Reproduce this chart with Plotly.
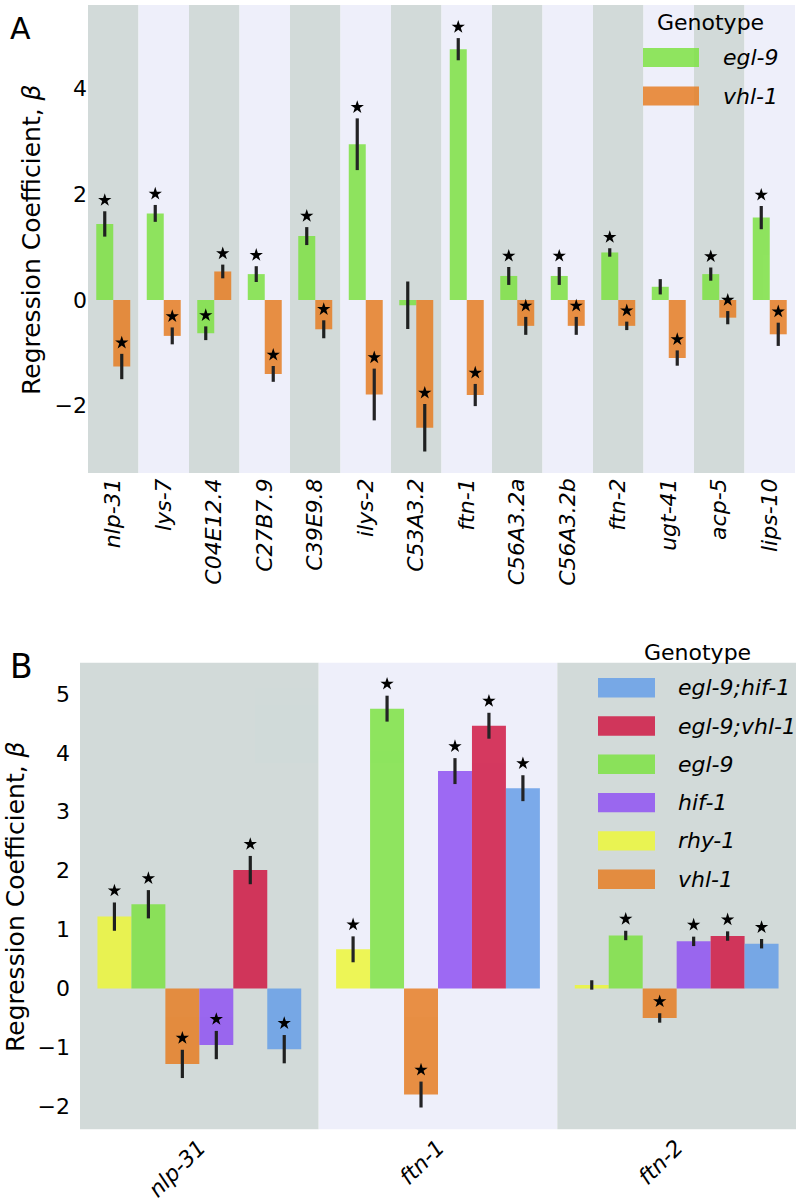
import plotly.graph_objects as go

# ---------------- data ----------------
genes_a = ["nlp-31", "lys-7", "C04E12.4", "C27B7.9", "C39E9.8", "ilys-2", "C53A3.2",
           "ftn-1", "C56A3.2a", "C56A3.2b", "ftn-2", "ugt-41", "acp-5", "lips-10"]
egl9_a = [1.44, 1.64, -0.63, 0.49, 1.21, 2.95, -0.10, 4.75, 0.455, 0.455, 0.90, 0.25, 0.49, 1.56]
egl9_a_err = [0.24, 0.16, 0.13, 0.15, 0.17, 0.49, 0.45, 0.21, 0.17, 0.17, 0.08, 0.145, 0.125, 0.22]
egl9_a_sig = [1, 1, 1, 1, 1, 1, 0, 1, 1, 1, 1, 0, 1, 1]
vhl1_a = [-1.26, -0.68, 0.54, -1.40, -0.555, -1.79, -2.42, -1.80, -0.49, -0.49, -0.49, -1.10, -0.335, -0.65]
vhl1_a_err = [0.24, 0.16, 0.13, 0.15, 0.17, 0.49, 0.45, 0.21, 0.17, 0.17, 0.08, 0.145, 0.125, 0.22]
vhl1_a_sig = [1, 1, 1, 1, 1, 1, 1, 1, 1, 1, 1, 1, 1, 1]

genes_b = ["nlp-31", "ftn-1", "ftn-2"]
rhy1_b = [1.22, 0.665, 0.06]
egl9_b = [1.43, 4.75, 0.90]
vhl1_b = [-1.28, -1.80, -0.50]
hif1_b = [-0.96, 3.69, 0.80]
egl9vhl1_b = [2.01, 4.46, 0.89]
egl9hif1_b = [-1.03, 3.40, 0.76]
err_b = [0.24, 0.22, 0.08]
rhy1_b_sig = [1, 1, 0]
all_sig_b = [1, 1, 1]

ticks_a = [-2, 0, 2, 4]
ticks_b = [-2, -1, 0, 1, 2, 3, 4, 5]

# ---------------- style ----------------
W, H = 796, 1202
FONT = "DejaVu Sans"
GRAY = "#d2dad9"
LAV = "#eeeffa"
OPA = 0.85
COL = {
    "egl-9": "#7ee243",
    "vhl-1": "#e67e24",
    "rhy-1": "#edf73a",
    "hif-1": "#9052f2",
    "egl-9;vhl-1": "#d01944",
    "egl-9;hif-1": "#679fe8",
}


def px(x):
    return x / W


def py(y):
    return 1 - y / H


fig = go.Figure()

# ---------- panel A ----------
series_a = [("egl-9", egl9_a, egl9_a_err, egl9_a_sig), ("vhl-1", vhl1_a, vhl1_a_err, vhl1_a_sig)]
bw_a = 0.3365
for s, (name, vals, errs, sig) in enumerate(series_a):
    xs = [i + (s - (len(series_a) - 1) / 2) * bw_a for i in range(len(genes_a))]
    fig.add_trace(go.Bar(x=xs, y=vals, width=bw_a, marker=dict(color=COL[name], line=dict(width=0)),
                         opacity=OPA, name=name, showlegend=False,
                         error_y=dict(type="data", array=errs, color="black", thickness=3.2, width=0),
                         xaxis="x", yaxis="y"))
    fig.add_trace(go.Scatter(x=xs, y=[v + e + 0.21 if g else None for v, e, g in zip(vals, errs, sig)],
                             mode="markers", marker=dict(symbol="star", size=10, color="black", line=dict(width=0)),
                             showlegend=False, xaxis="x", yaxis="y", hoverinfo="skip"))

# ---------- panel B ----------
series_b = [("rhy-1", rhy1_b, err_b, rhy1_b_sig), ("egl-9", egl9_b, err_b, all_sig_b),
            ("vhl-1", vhl1_b, err_b, all_sig_b), ("hif-1", hif1_b, err_b, all_sig_b),
            ("egl-9;vhl-1", egl9vhl1_b, err_b, all_sig_b), ("egl-9;hif-1", egl9hif1_b, err_b, all_sig_b)]
bw_b = 0.1423
for s, (name, vals, errs, sig) in enumerate(series_b):
    xs = [i + (s - (len(series_b) - 1) / 2) * bw_b for i in range(len(genes_b))]
    fig.add_trace(go.Bar(x=xs, y=vals, width=bw_b, marker=dict(color=COL[name], line=dict(width=0)),
                         opacity=OPA, name=name, showlegend=False,
                         error_y=dict(type="data", array=errs, color="black", thickness=3.2, width=0),
                         xaxis="x2", yaxis="y2"))
    fig.add_trace(go.Scatter(x=xs, y=[v + e + 0.2 if g else None for v, e, g in zip(vals, errs, sig)],
                             mode="markers", marker=dict(symbol="star", size=10, color="black", line=dict(width=0)),
                             showlegend=False, xaxis="x2", yaxis="y2", hoverinfo="skip"))

# ---------- background bands ----------
shapes = []
for i in range(len(genes_a)):
    shapes.append(dict(type="rect", xref="x", yref="y domain", x0=i - 0.5, x1=i + 0.5, y0=0, y1=1,
                       fillcolor=GRAY if i % 2 == 0 else LAV, line=dict(width=0), layer="below"))
for i in range(len(genes_b)):
    shapes.append(dict(type="rect", xref="x2", yref="y2 domain", x0=i - 0.5, x1=i + 0.5, y0=0, y1=1,
                       fillcolor=GRAY if i % 2 == 0 else LAV, line=dict(width=0), layer="below"))

annotations = []
# ---------- custom legends ----------
legend_a = ["egl-9", "vhl-1"]
annotations.append(dict(xref="paper", yref="paper", x=px(710), y=py(23), text="Genotype", showarrow=False,
                        xanchor="center", yanchor="middle", font=dict(family=FONT, size=22, color="black")))
for k, name in enumerate(legend_a):
    yc = 57.5 + 38.5 * k
    shapes.append(dict(type="rect", xref="paper", yref="paper", x0=px(643), x1=px(699),
                       y0=py(yc - 9.5), y1=py(yc + 9.5), fillcolor=COL[name], opacity=OPA,
                       line=dict(width=0), layer="above"))
    annotations.append(dict(xref="paper", yref="paper", x=px(721), y=py(yc), text=name, showarrow=False,
                            xanchor="left", yanchor="middle",
                            font=dict(family=FONT, size=22, color="black", style="italic")))

legend_b = ["egl-9;hif-1", "egl-9;vhl-1", "egl-9", "hif-1", "rhy-1", "vhl-1"]
annotations.append(dict(xref="paper", yref="paper", x=px(697), y=py(652), text="Genotype", showarrow=False,
                        xanchor="center", yanchor="middle", font=dict(family=FONT, size=22, color="black")))
for k, name in enumerate(legend_b):
    yc = 687.7 + 38.3 * k
    shapes.append(dict(type="rect", xref="paper", yref="paper", x0=px(598), x1=px(655),
                       y0=py(yc - 9.7), y1=py(yc + 9.7), fillcolor=COL[name], opacity=OPA,
                       line=dict(width=0), layer="above"))
    annotations.append(dict(xref="paper", yref="paper", x=px(676), y=py(yc), text=name, showarrow=False,
                            xanchor="left", yanchor="middle",
                            font=dict(family=FONT, size=22, color="black", style="italic")))

# ---------- titles / panel letters ----------
ytitle = "Regression Coefficient, <i>β</i>"
annotations.append(dict(xref="paper", yref="paper", x=px(31), y=py(240), text=ytitle, textangle=-90,
                        showarrow=False, xanchor="center", yanchor="middle",
                        font=dict(family=FONT, size=25, color="black")))
annotations.append(dict(xref="paper", yref="paper", x=px(15), y=py(897), text=ytitle, textangle=-90,
                        showarrow=False, xanchor="center", yanchor="middle",
                        font=dict(family=FONT, size=25, color="black")))
annotations.append(dict(xref="paper", yref="paper", x=px(20), y=py(29), text="A", showarrow=False,
                        xanchor="center", yanchor="middle", font=dict(family=FONT, size=30, color="black")))
annotations.append(dict(xref="paper", yref="paper", x=px(21), y=py(667), text="B", showarrow=False,
                        xanchor="center", yanchor="middle", font=dict(family=FONT, size=33, color="black")))

tickfont = dict(family=FONT, size=22, color="black")
fig.update_layout(
    width=W, height=H, margin=dict(l=0, r=0, t=0, b=0),
    paper_bgcolor="white", plot_bgcolor="white",
    barmode="overlay", showlegend=False,
    font=dict(family=FONT, color="black"),
    shapes=shapes, annotations=annotations,
    xaxis=dict(domain=[px(88), px(795)], range=[-0.5, len(genes_a) - 0.5],
               tickvals=list(range(len(genes_a))), ticktext=genes_a, tickangle=-90,
               tickfont=dict(family=FONT, size=22, color="black", style="italic"),
               showgrid=False, zeroline=False, showline=False, ticks="", anchor="y"),
    yaxis=dict(domain=[py(473), py(5)], range=[-3.277, 5.587], tickvals=ticks_a,
               tickfont=tickfont, showgrid=False, zeroline=False, showline=False, ticks="",
               anchor="x"),
    xaxis2=dict(domain=[px(80), px(796)], range=[-0.5, len(genes_b) - 0.5],
                tickvals=list(range(len(genes_b))), ticktext=genes_b, tickangle=-45,
                tickfont=dict(family=FONT, size=22, color="black", style="italic"),
                showgrid=False, zeroline=False, showline=False, ticks="", anchor="y2"),
    yaxis2=dict(domain=[py(1129.3), py(662.7)], range=[-2.39, 5.53], tickvals=ticks_b,
                tickfont=tickfont, showgrid=False, zeroline=False, showline=False, ticks="",
                anchor="x2", ticklabelstandoff=9),
)

fig.write_html("out.html", config={"displayModeBar": False},
               post_script="document.body.style.margin='0';document.body.style.padding='0';"
                           "document.body.style.overflow='hidden';")
